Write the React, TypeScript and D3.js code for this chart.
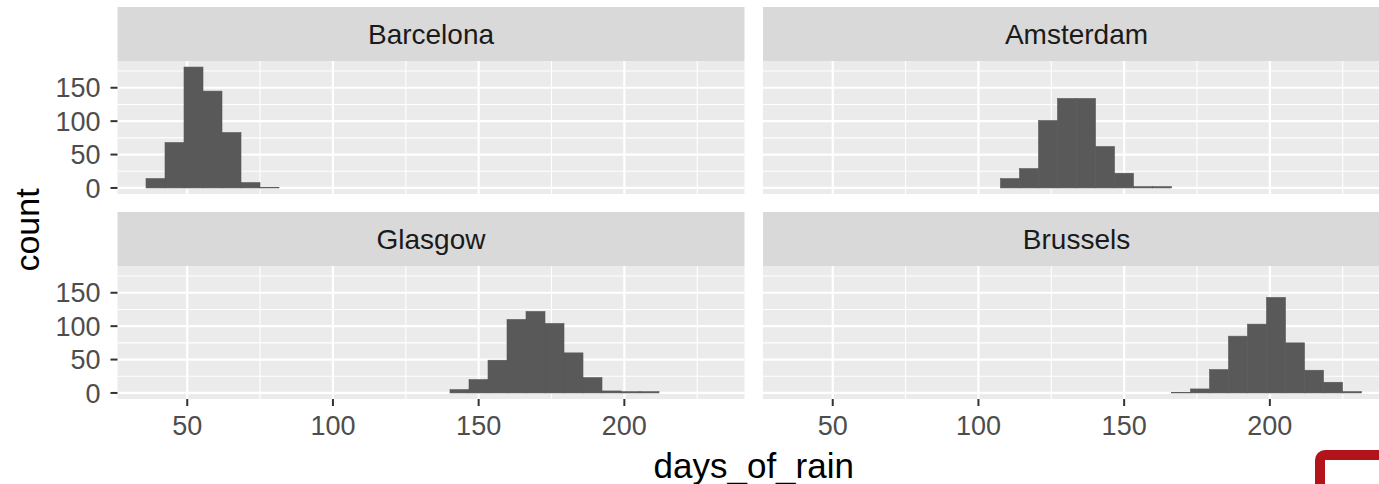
import React from 'react';
import * as d3 from 'd3';

// facet order, left-to-right then top-to-bottom
const cities = ['Barcelona', 'Amsterdam', 'Glasgow', 'Brussels'];

// histogram bins (30 bins shared by all facets)
const binStart = 35.85;
const binWidth = 6.52;
const binCount = 30;

// counts per city, starting at the given bin index
const barcelonaCounts = [14, 68, 181, 145, 83, 8, 1];
const amsterdamCounts = [14, 29, 101, 134, 134, 62, 22, 2, 2];
const glasgowCounts = [5, 20, 49, 110, 122, 104, 60, 23, 3, 2, 2];
const brusselsCounts = [1, 6, 35, 85, 103, 143, 75, 34, 16, 2];
const firstBins = [0, 11, 16, 20];

const xTicks = [50, 100, 150, 200];
const xMinor = [75, 125, 175, 225];
const yTicks = [0, 50, 100, 150];
const yMinor = [25, 75, 125, 175];

const W = 1379;
const H = 484;
const panelW = 627;
const panelH = 133;
const stripH = 54;
const colX = [117.5, 763];
const rowY = [7, 212];
const font = '"Liberation Sans", Arial, Helvetica, sans-serif';

const allCounts = [barcelonaCounts, amsterdamCounts, glasgowCounts, brusselsCounts];

const App = () => {
  const lo = binStart;
  const hi = binStart + binCount * binWidth;
  const pad = (hi - lo) * 0.05;
  const x = d3.scaleLinear().domain([lo - pad, hi + pad]).range([0, panelW]);

  const yMax = d3.max(allCounts, c => d3.max(c)) as number;
  const y = d3.scaleLinear().domain([-0.05 * yMax, 1.05 * yMax]).range([panelH, 0]);

  // vertical centre of the panels (strip of top row excluded)
  const panelsMid = (rowY[0] + stripH + rowY[1] + stripH + panelH) / 2;

  return (
    <svg width={W} height={H} style={{ position: 'absolute', left: 0, top: 0, background: '#fff' }}
      fontFamily={font}>
      {cities.map((city, i) => {
        const col = i % 2;
        const row = Math.floor(i / 2);
        const px = colX[col];
        const sy = rowY[row];
        const py = sy + stripH;
        const counts = allCounts[i];
        return (
          <g key={city}>
            {/* strip */}
            <rect x={px} y={sy} width={panelW} height={stripH} fill="#D9D9D9" />
            <text x={px + panelW / 2} y={sy + stripH / 2} dy="0.36em" textAnchor="middle"
              fontSize={28} fill="#1A1A1A">{city}</text>
            {/* panel */}
            <g transform={`translate(${px},${py})`}>
              <rect width={panelW} height={panelH} fill="#EBEBEB" />
              {yMinor.map(t => (
                <line key={'ym' + t} x1={0} x2={panelW} y1={y(t)} y2={y(t)} stroke="#fff" strokeWidth={1.1} />
              ))}
              {xMinor.map(t => (
                <line key={'xm' + t} x1={x(t)} x2={x(t)} y1={0} y2={panelH} stroke="#fff" strokeWidth={1.1} />
              ))}
              {yTicks.map(t => (
                <line key={'yM' + t} x1={0} x2={panelW} y1={y(t)} y2={y(t)} stroke="#fff" strokeWidth={2.2} />
              ))}
              {xTicks.map(t => (
                <line key={'xM' + t} x1={x(t)} x2={x(t)} y1={0} y2={panelH} stroke="#fff" strokeWidth={2.2} />
              ))}
              {counts.map((c, j) => {
                const b = firstBins[i] + j;
                const x0 = x(binStart + b * binWidth);
                const x1 = x(binStart + (b + 1) * binWidth);
                return (
                  <rect key={j} x={x0} y={y(c)} width={x1 - x0} height={y(0) - y(c)}
                    fill="#595959" stroke="#595959" strokeWidth={0.6} />
                );
              })}
            </g>
            {/* y axis on left column */}
            {col === 0 && yTicks.map(t => (
              <g key={'yt' + t} transform={`translate(${px},${py + y(t)})`}>
                <line x1={-7} x2={0} stroke="#333" strokeWidth={2} />
                <text x={-17} dy="0.36em" textAnchor="end" fontSize={27} fill="#4D4D4D">{t}</text>
              </g>
            ))}
            {/* x axis on bottom row */}
            {row === 1 && xTicks.map(t => (
              <g key={'xt' + t} transform={`translate(${px + x(t)},${py + panelH})`}>
                <line y1={0} y2={7} stroke="#333" strokeWidth={2} />
                <text y={26} dy="0.36em" textAnchor="middle" fontSize={27} fill="#4D4D4D">{t}</text>
              </g>
            ))}
          </g>
        );
      })}
      <text x={(colX[0] + colX[1] + panelW) / 2} y={465} dy="0.36em" textAnchor="middle"
        fontSize={35} fill="#000">days_of_rain</text>
      <text transform={`translate(39,${panelsMid}) rotate(-90)`}
        textAnchor="middle" fontSize={34} fill="#000">count</text>
      {/* red corner mark */}
      <rect x={1320} y={455} width={200} height={120} rx={5} fill="none" stroke="#B3141C" strokeWidth={10} />
    </svg>
  );
};

export default App;
